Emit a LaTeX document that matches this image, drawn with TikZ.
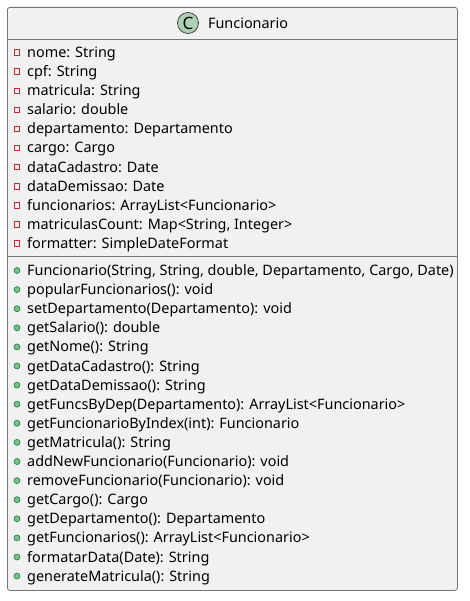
\documentclass[tikz,border=0pt]{standalone}
\usepackage{fontspec}
\setmainfont{Noto Sans}
\usetikzlibrary{positioning}
\definecolor{classbg}{HTML}{F1F1F1}
\definecolor{classline}{HTML}{181818}
\definecolor{spotfill}{HTML}{ADD1B2}
\definecolor{privred}{HTML}{C82930}
\definecolor{pubfill}{HTML}{84BE84}
\definecolor{publine}{HTML}{038048}
\tikzset{
  member/.style={anchor=base west, inner sep=0pt, font=\fontsize{14.4}{16}\selectfont},
  privicon/.style={draw=privred, line width=0.8pt, minimum size=5.5pt, inner sep=0pt},
  pubicon/.style={circle, draw=publine, fill=pubfill, line width=0.6pt, minimum size=6pt, inner sep=0pt}
}
\begin{document}
\begin{tikzpicture}[x=1pt, y=-1pt]
  \useasboundingbox (0,0) rectangle (470,601);
  % class box
  \node[draw=classline!60, fill=classbg, rounded corners=2.5pt, line width=0.8pt,
        minimum width=450pt, minimum height=583pt, inner sep=0pt, anchor=north west] (box) at (7,7) {};
  \draw[classline!60, line width=0.8pt] (7,39) coordinate (hl) -- (457,39) coordinate (hr);
  \draw[classline!60, line width=0.8pt] (7,256) coordinate (sl) -- (457,256) coordinate (sr);
  % header
  \node[circle, draw=classline!80, fill=spotfill, line width=0.8pt, minimum size=21pt, inner sep=0pt,
        font=\fontsize{17}{18}\selectfont\bfseries] (spot) at (188,23) {C};
  \node[anchor=west, inner sep=0pt, font=\fontsize{14.4}{16}\selectfont, right=9pt of spot] (title) {Funcionario};
  % attributes
  \foreach \txt [count=\i] in {nome: String, cpf: String, matricula: String, salario: double,
      departamento: Departamento, cargo: Cargo, dataCadastro: Date, dataDemissao: Date,
      funcionarios: ArrayList<Funcionario>, {matriculasCount: Map<String, Integer>},
      formatter: SimpleDateFormat}
  {
    \node[privicon] (ai\i) at (17,{52.5+19.1*(\i-1)}) {};
    \node[member] (a\i) at (27,{57.5+19.1*(\i-1)}) {\txt};
  }
  % methods
  \foreach \txt [count=\i] in {{Funcionario(String, String, double, Departamento, Cargo, Date)},
      popularFuncionarios(): void, setDepartamento(Departamento): void, getSalario(): double,
      getNome(): String, getDataCadastro(): String, getDataDemissao(): String,
      getFuncsByDep(Departamento): ArrayList<Funcionario>, getFuncionarioByIndex(int): Funcionario,
      getMatricula(): String, addNewFuncionario(Funcionario): void,
      removeFuncionario(Funcionario): void, getCargo(): Cargo,
      getDepartamento(): Departamento, getFuncionarios(): ArrayList<Funcionario>,
      formatarData(Date): String, generateMatricula(): String}
  {
    \node[pubicon] (mi\i) at (17,{270.5+19.1*(\i-1)}) {};
    \node[member] (m\i) at (27,{275.5+19.1*(\i-1)}) {\txt};
  }
\end{tikzpicture}
\end{document}
